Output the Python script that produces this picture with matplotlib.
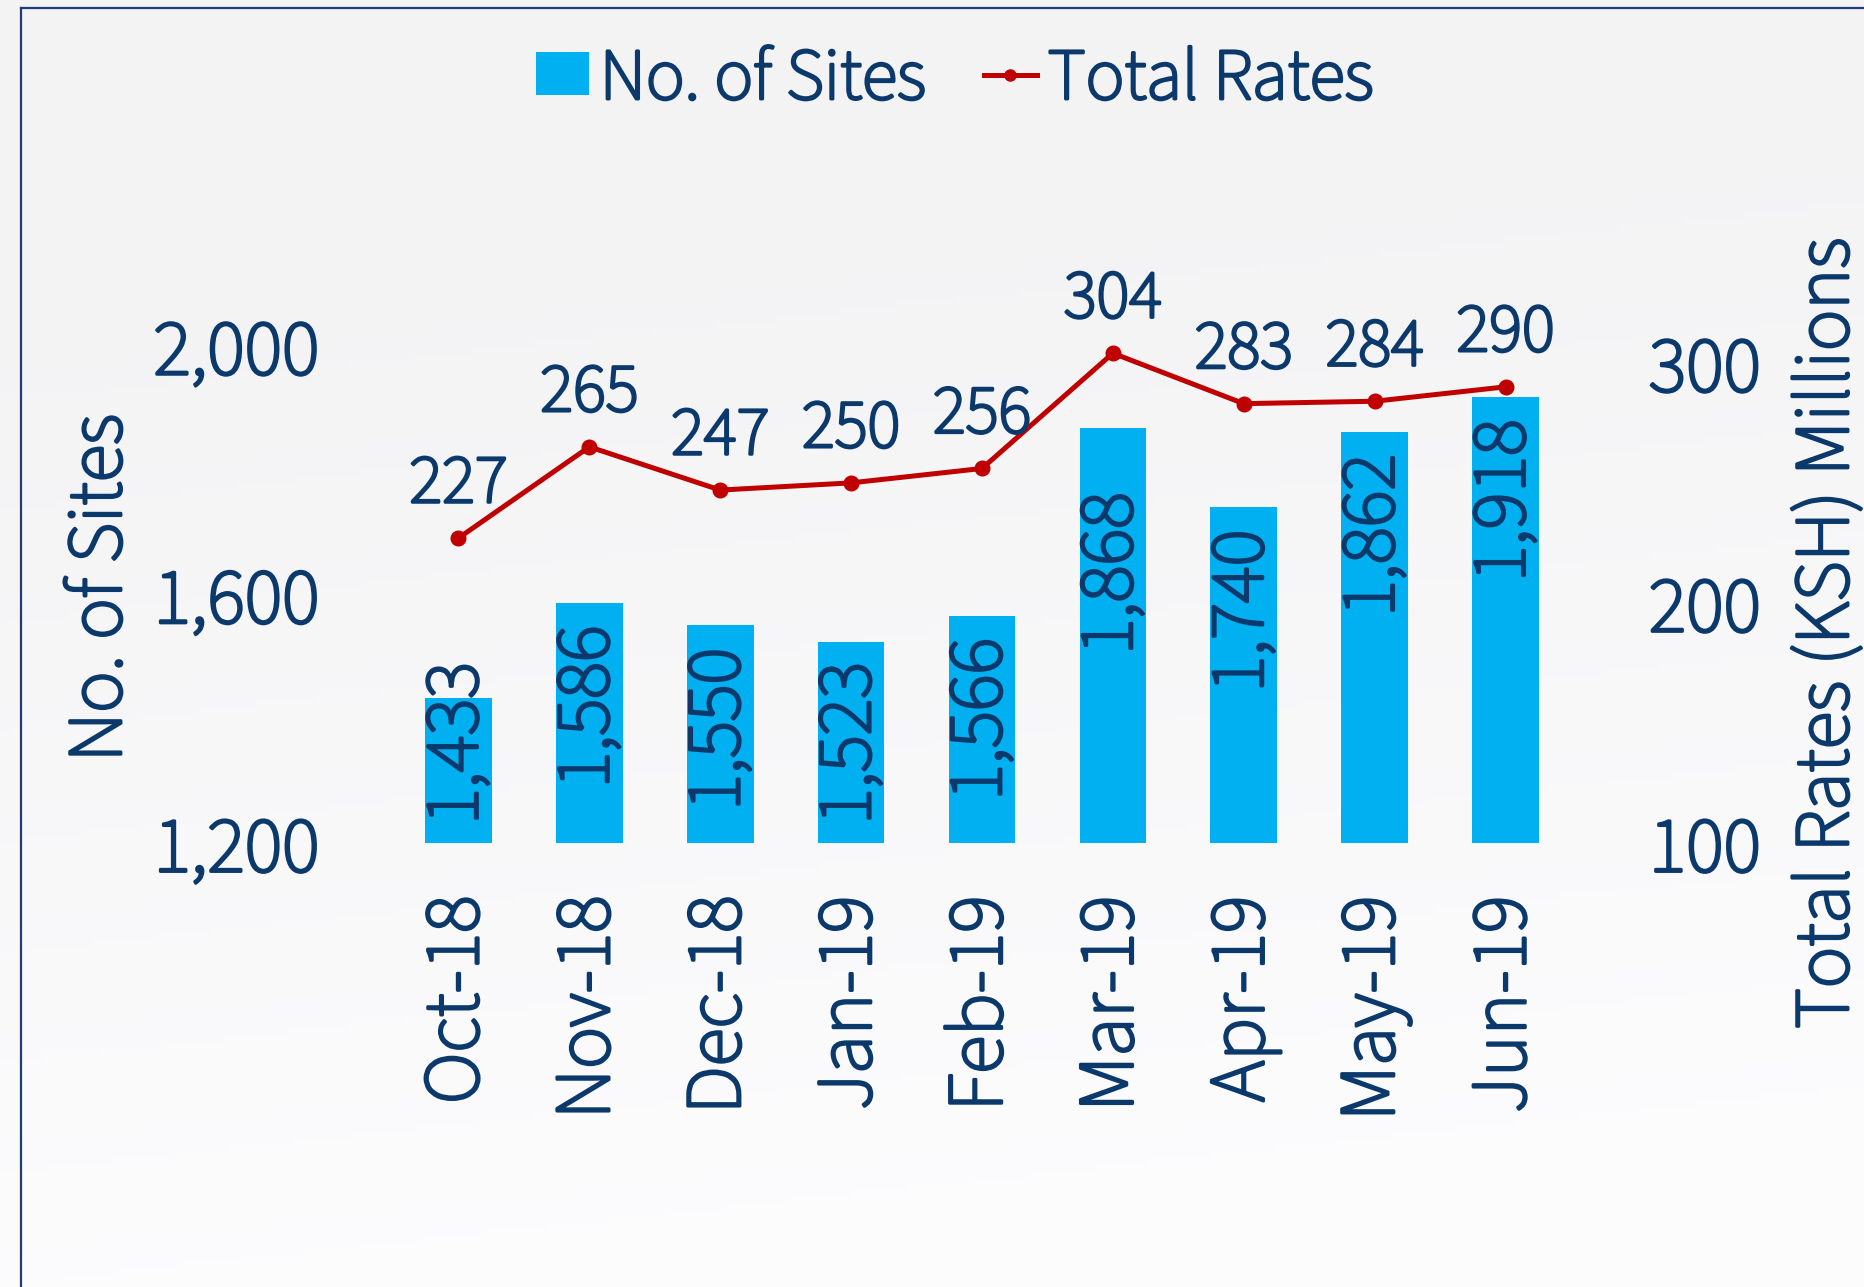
import numpy as np
import matplotlib
matplotlib.use("Agg")
import matplotlib.pyplot as plt
import matplotlib.patheffects as pe
from matplotlib.lines import Line2D
from matplotlib.patches import Patch
from matplotlib.text import Text

# ---------------- data ----------------
months = ["Oct-18", "Nov-18", "Dec-18", "Jan-19", "Feb-19", "Mar-19", "Apr-19", "May-19", "Jun-19"]
sites = [1433, 1586, 1550, 1523, 1566, 1868, 1740, 1862, 1918]
rates = [227, 265, 247, 250, 256, 304, 283, 284, 290]
left_ticks = [1200, 1600, 2000]
right_ticks = [100, 200, 300]

# ---------------- style ----------------
NAVY = "#0c396c"
BLUE = "#00b0f0"
RED = "#c00000"
FONT = ["Source Sans 3", "Lato", "DejaVu Sans"]
plt.rcParams["font.family"] = FONT

W, H = 1864, 1287
fig = plt.figure(figsize=(W / 100, H / 100), dpi=100)
fig.patch.set_facecolor("#f6f6f8")

# subtle background gradient
bg = fig.add_axes([0, 0, 1, 1], zorder=-10)
yy = np.linspace(0, 1, 200)[:, None]
xx = np.linspace(0, 1, 300)[None, :]
grad = 0.955 + 0.035 * np.clip((yy * 1.3 + xx * 0.2 - 0.35), 0, 1)
bg.imshow(np.dstack([grad, grad, grad * 1.005]).clip(0, 1), extent=[0, 1, 0, 1],
          aspect="auto", origin="upper")
bg.axis("off")

# frame lines (left and top)
fig.add_artist(Line2D([21 / W, 21 / W], [0, 1 - 8 / H], color="#1f3b7a", lw=1.6, transform=fig.transFigure))
fig.add_artist(Line2D([21 / W, 1], [1 - 8 / H, 1 - 8 / H], color="#1f3b7a", lw=1.6, transform=fig.transFigure))

# axes geometry (pixels)
ax_left, ax_right = 393, 1571
ax_bottom, ax_top = 843, 150
ax = fig.add_axes([ax_left / W, 1 - ax_bottom / H, (ax_right - ax_left) / W, (ax_bottom - ax_top) / H])
ax.set_facecolor("none")
ax2 = ax.twinx()

x = np.arange(len(months))
ppu_left = 0.6215    # px per unit
ppu_right = 2.413
ax.set_ylim(1200, 1200 + (ax_bottom - ax_top) / ppu_left)
r0 = 100 + (846.5 - ax_bottom) / ppu_right
ax2.set_ylim(r0, r0 + (ax_bottom - ax_top) / ppu_right)
ax.set_xlim(-0.5, len(months) - 0.5)

bars = ax.bar(x, sites, width=0.51, color=BLUE, zorder=2, label="No. of Sites")
ax2.plot(x, rates, color=RED, lw=3.6, marker="o", ms=10.5, zorder=3, label="Total Rates")

for a in (ax, ax2):
    for s in a.spines.values():
        s.set_visible(False)
    a.tick_params(length=0, colors=NAVY)

ax.set_yticks(left_ticks)
ax.set_yticklabels([f"{v:,}" for v in left_ticks], fontsize=57, color=NAVY)
ax.tick_params(axis="y", pad=53)
ax2.set_yticks(right_ticks)
ax2.set_yticklabels([str(v) for v in right_ticks], fontsize=57, color=NAVY)
ax2.tick_params(axis="y", pad=56)
ax.set_xticks(x)
ax.set_xticklabels(months, rotation=90, fontsize=57, color=NAVY, ha="center", va="top")
ax.tick_params(axis="x", pad=38)

# line value labels
for xi, v in zip(x, rates):
    ax2.annotate(f"{v}", (xi, v), xytext=(0, 38), textcoords="offset points",
                 ha="center", va="center", fontsize=50, color=NAVY, zorder=5)

# bar value labels (inside end, rotated)
label_nudge_px = [0, 0, 0, 0, 0, 42, 0, 0, 0]
fig.canvas.draw()
renderer = fig.canvas.get_renderer()
for xi, v, nd in zip(x, sites, label_nudge_px):
    t = ax.annotate(f"{v:,}", (xi, v), xytext=(0, -(22 + nd) * 0.72), textcoords="offset points",
                    ha="center", va="top", rotation=90, fontsize=56, color=NAVY, zorder=4)
    bb = t.get_window_extent(renderer)
    base_px = ax.transData.transform((0, 1200))[1]
    min_bottom = base_px + 18
    if bb.y0 < min_bottom:
        shift = (min_bottom - bb.y0) * 0.72
        t.xyann = (0, t.xyann[1] + shift)

# axis titles
fig.text(102 / W, 1 - 588 / H, "No. of Sites", rotation=90, ha="center", va="center",
         fontsize=56, color=NAVY)
fig.text(1829 / W, 1 - 633 / H, "Total Rates (KSH) Millions", rotation=90, ha="center", va="center",
         fontsize=56, color=NAVY)

# legend
handles = [Patch(facecolor=BLUE, edgecolor="none"),
           Line2D([], [], color=RED, lw=3.6, marker="o", ms=8)]
fig.legend(handles, ["No. of Sites", "Total Rates"], loc="center", bbox_to_anchor=(955 / W, 1 - 81 / H),
           ncol=2, frameon=False, fontsize=52.5, labelcolor=NAVY, handlelength=0.72, handleheight=0.53,
           handletextpad=0.15, columnspacing=0.8, borderpad=0)

# thicken the light glyphs slightly
for t in fig.findobj(Text):
    if t.get_text():
        t.set_path_effects([pe.withStroke(linewidth=2.1, foreground=NAVY)])

fig.savefig("out.png", dpi=100, facecolor=fig.get_facecolor())
